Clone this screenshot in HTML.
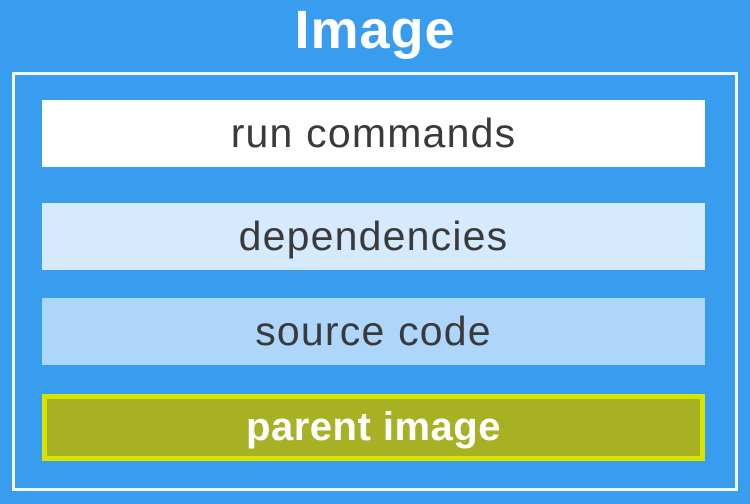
<!DOCTYPE html>
<html><head><style>
body{margin:0;width:750px;height:504px;background:#399def;position:relative;overflow:hidden;font-family:"Liberation Sans",sans-serif;}
.t{position:absolute;left:0;width:750px;top:2px;text-align:center;color:#fff;font-size:54px;font-weight:bold;line-height:56px;letter-spacing:1px;}
.o{position:absolute;left:12px;top:72px;width:720px;height:413px;border:3px solid #f4f9ff;}
.b{position:absolute;left:42px;width:663px;height:67px;text-align:center;line-height:66px;font-size:41px;letter-spacing:1.2px;color:#3a3a3a;box-sizing:border-box;}
</style></head><body>
<div class="t">Image</div>
<div class="o"></div>
<div class="b" style="top:100px;background:#ffffff">run commands</div>
<div class="b" style="top:203px;background:#d6eafd">dependencies</div>
<div class="b" style="top:298px;background:#aed6fb">source code</div>
<div class="b" style="top:394px;background:#a8b024;border:5px solid #d8e400;color:#fff;font-weight:bold;line-height:57px;font-size:40px;letter-spacing:0.5px">parent image</div>
</body></html>
